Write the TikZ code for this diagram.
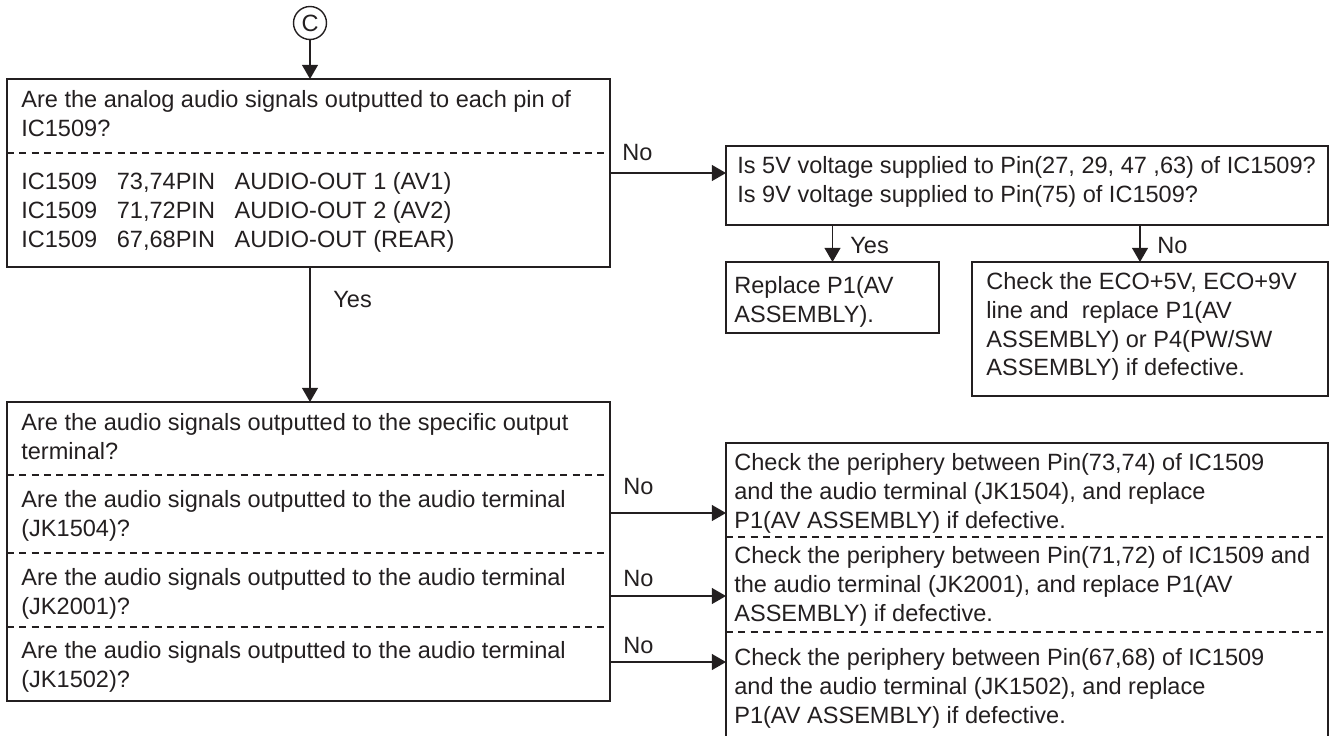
\documentclass[tikz,border=0pt]{standalone}
\usepackage{xcolor}
\usepackage{fontspec}
\setmainfont{Liberation Sans}
\usepackage{tikz}
\usetikzlibrary{positioning, arrows.meta}
\definecolor{fInk}{HTML}{231F20}

\begin{document}
\begin{tikzpicture}[x=0.02cm, y=-0.02cm, fInk,
      frame/.style 2 args={draw=fInk, line width=0.8pt, anchor=north west, inner sep=0pt, outer sep=0pt,
        minimum width=#1*0.02cm, minimum height=#2*0.02cm},
      txt/.style={anchor=north west, align=left, inner sep=0pt, text=fInk,
        font=\fontsize{13.4}{16.4}\selectfont},
      lbl/.style={anchor=base west, inner sep=0pt, text=fInk, font=\fontsize{13.4}{16.4}\selectfont},
      sep/.style={draw=fInk, line width=0.6pt, dash pattern=on 4pt off 3pt},
      arrow/.style={-{Triangle[length=8pt,width=9pt]}, line width=0.8pt, fInk}]
      \useasboundingbox (0,0) rectangle (1338,735);
      % start marker
      \node[draw=fInk, line width=0.8pt, circle, minimum size=0.66cm, inner sep=0pt,
        font=\fontsize{13.4}{16.4}\selectfont] (start) at (310,23) {C};
      % first check
      \node[frame={603}{188}] (chk1) at (7,79) {};
      \node[txt] (chk1a) at (21,87) {\strut Are the analog audio signals outputted to each pin of\\IC1509?};
      \node[txt] (chk1b) at (21,169) {\strut IC1509~~~73,74PIN~~~AUDIO-OUT 1 (AV1)\\IC1509~~~71,72PIN~~~AUDIO-OUT 2 (AV2)\\IC1509~~~67,68PIN~~~AUDIO-OUT (REAR)};
      \draw[sep] (chk1.west |- 0,153) -- (chk1.east |- 0,153);
      % supply check
      \node[frame={602}{79}] (pwr) at (726,146) {};
      \node[txt] (pwrt) at (737,153) {\strut Is 5V voltage supplied to Pin(27, 29, 47 ,63) of IC1509?\\Is 9V voltage supplied to Pin(75) of IC1509?};
      \node[frame={213}{71}] (fixA) at (726,262) {};
      \node[txt] (fixAt) at (734,273) {\strut Replace P1(AV\\ASSEMBLY).};
      \node[frame={356}{134}] (fixB) at (972,262) {};
      \node[txt] (fixBt) at (986,269) {\strut Check the ECO+5V, ECO+9V\\line and~ replace P1(AV\\ASSEMBLY) or P4(PW/SW\\ASSEMBLY) if defective.};
      % terminal checks
      \node[frame={603}{299}] (chk2) at (7,402) {};
      \node[txt] (chk2a) at (21,410) {\strut Are the audio signals outputted to the specific output\\terminal?};
      \node[txt] (chk2b) at (21,487) {\strut Are the audio signals outputted to the audio terminal\\(JK1504)?};
      \node[txt] (chk2c) at (21,565) {\strut Are the audio signals outputted to the audio terminal\\(JK2001)?};
      \node[txt] (chk2d) at (21,638) {\strut Are the audio signals outputted to the audio terminal\\(JK1502)?};
      \foreach \y in {475,553,627}
        \draw[sep] (chk2.west |- 0,\y) -- (chk2.east |- 0,\y);
      \node[frame={602}{302}] (fixC) at (726,443) {};
      \node[txt] (fixCa) at (734,450) {\strut Check the periphery between Pin(73,74) of IC1509\\and the audio terminal (JK1504), and replace\\P1(AV ASSEMBLY) if defective.};
      \node[txt] (fixCb) at (734,543) {\strut Check the periphery between Pin(71,72) of IC1509 and\\the audio terminal (JK2001), and replace P1(AV\\ASSEMBLY) if defective.};
      \node[txt] (fixCc) at (734,645) {\strut Check the periphery between Pin(67,68) of IC1509\\and the audio terminal (JK1502), and replace\\P1(AV ASSEMBLY) if defective.};
      \foreach \y in {537,632}
        \draw[sep] (fixC.west |- 0,\y) -- (fixC.east |- 0,\y);
      % connectors
      \draw[arrow] (start) -- (start |- chk1.north);
      \draw[arrow] (chk1.east) -- (chk1.east -| pwr.west);
      \node[lbl] at (622,160) {No};
      \draw[arrow] (fixA.north |- pwr.south) -- (fixA.north);
      \node[lbl] at (850,253) {Yes};
      \draw[arrow] ([xshift=-0.2cm]fixB.north |- pwr.south) -- ([xshift=-0.2cm]fixB.north);
      \node[lbl] at (1157,253) {No};
      \draw[arrow] (start |- chk1.south) -- (start |- chk2.north);
      \node[lbl] at (333,307) {Yes};
      \coordinate (o1) at (610,513);
      \coordinate (o2) at (610,596);
      \coordinate (o3) at (610,662);
      \draw[arrow] (o1) -- (o1 -| fixC.west);
      \node[lbl] at (623,494) {No};
      \draw[arrow] (o2) -- (o2 -| fixC.west);
      \node[lbl] at (623,586) {No};
      \draw[arrow] (o3) -- (o3 -| fixC.west);
      \node[lbl] at (623,653) {No};
    \end{tikzpicture}
\end{document}
